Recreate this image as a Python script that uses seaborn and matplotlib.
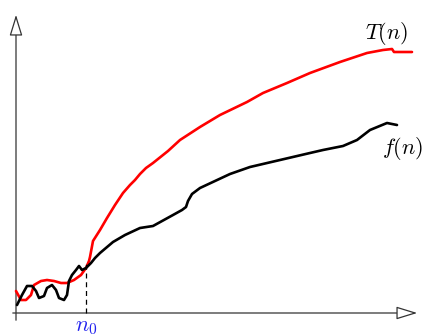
import numpy as np
import pandas as pd
import matplotlib
matplotlib.use("Agg")
import matplotlib.pyplot as plt
import seaborn as sns
from matplotlib.patches import FancyArrowPatch

# curves (x to the right, y upward, origin at axes crossing)
t_x = [0, 5, 10, 15, 18, 25, 31, 38, 45, 51, 58, 65, 70, 73, 74, 77, 84, 91, 99,
       107, 114, 119, 124, 130, 137, 152, 164, 184, 204, 231, 247, 271, 294, 324,
       351, 367, 376, 378, 384, 396]
t_y = [22, 13, 13, 18, 28, 32, 33, 32, 30, 30, 33, 38, 45, 52, 56, 72, 83, 95, 108,
       120, 128, 133, 139, 145, 150, 162, 173, 186, 198, 211, 220, 230, 240, 251,
       260, 263, 264, 261, 261, 261]

f_x = [1, 6, 11, 16, 20, 23, 28, 31, 36, 40, 43, 48, 51, 53, 56, 60, 63, 66, 70,
       75, 79, 84, 97, 109, 124, 137, 157, 166, 170, 172, 176, 184, 214, 234, 264, 294,
       307, 327, 341, 354, 371, 381]
f_y = [8, 18, 27, 27, 22, 15, 17, 25, 28, 23, 15, 13, 18, 32, 38, 43, 47, 43, 45,
       50, 55, 60, 71, 78, 85, 87, 98, 103, 106, 112, 119, 125, 139, 146, 153, 160,
       163, 167, 173, 183, 190, 188]

n0 = 70

df = pd.concat([
    pd.DataFrame({"x": t_x, "y": t_y, "curve": "T"}),
    pd.DataFrame({"x": f_x, "y": f_y, "curve": "f"}),
])

plt.rcParams["mathtext.fontset"] = "cm"
plt.rcParams["lines.solid_joinstyle"] = "round"
plt.rcParams["lines.solid_capstyle"] = "round"
fig = plt.figure(figsize=(4.24, 3.36), dpi=100)
ax = fig.add_axes([0, 0, 1, 1])
ax.set_xlim(-16, 408)
ax.set_ylim(-23, 313)
ax.axis("off")

sns.lineplot(data=df, x="x", y="y", hue="curve", palette={"T": "#ff0000", "f": "black"},
             sort=False, estimator=None, linewidth=1.9, legend=False, ax=ax)

# axes with open arrowheads
for start, end in [((-6, 0), (404, 0)), ((0, -10), (0, 301))]:
    ax.add_patch(FancyArrowPatch(start, end, arrowstyle="-|>,head_length=13,head_width=4",
                                 mutation_scale=1, edgecolor="#333333", facecolor="white",
                                 linewidth=0.9))

ax.plot([n0, n0], [0, 52], color="black", linestyle=(0, (4, 3)), linewidth=0.9)
ax.text(n0, -4, r"$n_0$", color="#2222ee", fontsize=16, ha="center", va="top")
ax.text(371, 266, r"$T(n)$", fontsize=16, ha="center", va="bottom")
ax.text(387, 165, r"$f(n)$", fontsize=16, ha="center", va="center")

fig.savefig("out.png", dpi=100)
